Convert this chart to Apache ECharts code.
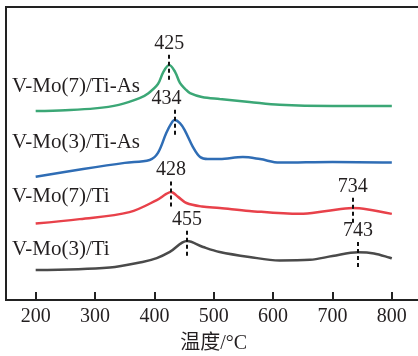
<!DOCTYPE html>
<html>
<head>
<meta charset="utf-8">
<script src="https://cdn.jsdelivr.net/npm/echarts@6/dist/echarts.min.js"></script>
<style>
  html, body { margin: 0; padding: 0; background: #fff; }
  #chart { width: 418px; height: 356px; }
</style>
</head>
<body>
<div id="chart"></div>
<script>
// H2-TPR profiles, stacked with vertical offsets (a.u.)
const seriesNames = ['V-Mo(7)/Ti-As', 'V-Mo(3)/Ti-As', 'V-Mo(7)/Ti', 'V-Mo(3)/Ti'];
const seriesColors = ['#3ba776', '#2f6db5', '#e8414a', '#4a4a4a'];

const tempMo7As = [200, 250, 300, 340, 375, 390, 406, 415, 425, 435, 443, 452, 460, 480, 510, 560, 611, 700, 800];
const sigMo7As  = [64.5, 64.8, 65.4, 66.6, 68.9, 70.6, 73.7, 77.8, 80.2, 77.8, 74.1, 72.0, 70.6, 69.3, 68.6, 67.6, 66.6, 66.2, 66.2];

const tempMo3As = [200, 280, 350, 392, 406, 420, 428, 434, 443, 451, 465, 477, 490, 510, 549, 578, 611, 700, 800];
const sigMo3As  = [42.1, 44.7, 46.8, 47.8, 50.2, 57.0, 60.1, 61.4, 60.4, 58.0, 52.2, 48.8, 48.1, 48.1, 48.8, 48.1, 46.9, 47.1, 46.9];

const tempMo7 = [200, 274, 358, 404, 420, 428, 440, 454, 480, 510, 560, 645, 690, 734, 760, 800];
const sigMo7  = [26.1, 27.6, 30.0, 34.1, 36.2, 36.9, 35.2, 33.1, 31.9, 31.4, 30.4, 29.4, 30.4, 31.4, 30.9, 29.4];

const tempMo3 = [200, 325, 380, 404, 426, 455, 482, 510, 560, 611, 662, 700, 743, 770, 800];
const sigMo3  = [10.2, 11.1, 13.0, 14.3, 16.4, 20.1, 18.1, 16.4, 14.7, 13.5, 13.7, 15.0, 16.3, 15.9, 14.2];

// reduction peak temperatures (°C)
const peaksMo7As = [425];
const peaksMo3As = [434];
const peaksMo7 = [428, 734];
const peaksMo3 = [455, 743];

const xTicks = [200, 300, 400, 500, 600, 700, 800];

const serifFont = '"Liberation Serif", "Times New Roman", "Noto Sans CJK SC", serif';
const textColor = '#231f20';

function pairs(t, s) { return t.map((v, i) => [v, s[i]]); }

function peakLines(t, s, peaks) {
  return peaks.map(p => {
    const y = s[t.indexOf(p)];
    const item = [{ coord: [p, y - 5] }, { coord: [p, y + 4] }];
    if (p === 434) item[0].label = { padding: [0, 16, 0, 0] };
    return item;
  });
}

const raw = [
  [tempMo7As, sigMo7As, peaksMo7As],
  [tempMo3As, sigMo3As, peaksMo3As],
  [tempMo7, sigMo7, peaksMo7],
  [tempMo3, sigMo3, peaksMo3]
];

const series = raw.map(([t, s, peaks], i) => ({
  name: seriesNames[i],
  type: 'line',
  data: pairs(t, s),
  smooth: 0.35,
  symbol: 'none',
  lineStyle: { color: seriesColors[i], width: 2.5 },
  z: 3,
  markLine: {
    silent: true,
    symbol: ['none', 'none'],
    lineStyle: { color: '#111', width: 2, type: [4, 3] },
    label: {
      show: true,
      position: 'end',
      distance: 0,
      formatter: p => String(p.data.coord ? p.data.coord[0] : p.value),
      fontFamily: serifFont,
      fontSize: 20,
      color: textColor
    },
    data: peakLines(t, s, peaks)
  }
}));

// captions at the left of each curve
const captionY = [87, 143, 197, 250];
const graphics = seriesNames.map((n, i) => ({
  type: 'text',
  left: 12,
  top: captionY[i] - 11,
  style: {
    text: n,
    fontFamily: serifFont,
    fontSize: 21,
    fill: textColor,
    verticalAlign: 'top'
  }
}));

const chart = echarts.init(document.getElementById('chart'), null, { renderer: 'canvas' });
chart.setOption({
  animation: false,
  backgroundColor: '#fff',
  grid: {
    left: 6, top: 7, width: 415.5, height: 293,
    outerBoundsMode: 'none',
    containLabel: false,
    show: true, borderColor: '#222', borderWidth: 2, backgroundColor: 'transparent'
  },
  xAxis: {
    type: 'value',
    min: 150,
    max: 850,
    name: '温度/°C',
    nameLocation: 'middle',
    nameGap: 34,
    nameTextStyle: { fontFamily: serifFont, fontSize: 20, color: textColor },
    axisLine: { show: true, lineStyle: { color: '#222', width: 2 } },
    axisTick: {
      show: true, inside: true, length: 8, customValues: xTicks,
      lineStyle: { color: '#222', width: 2 }
    },
    axisLabel: {
      customValues: xTicks, margin: 7,
      fontFamily: serifFont, fontSize: 20, color: textColor
    },
    splitLine: { show: false }
  },
  yAxis: {
    type: 'value',
    min: 0,
    max: 100,
    axisLine: { show: false },
    axisTick: { show: false },
    axisLabel: { show: false },
    splitLine: { show: false }
  },
  graphic: graphics,
  series: series
});
</script>
</body>
</html>
